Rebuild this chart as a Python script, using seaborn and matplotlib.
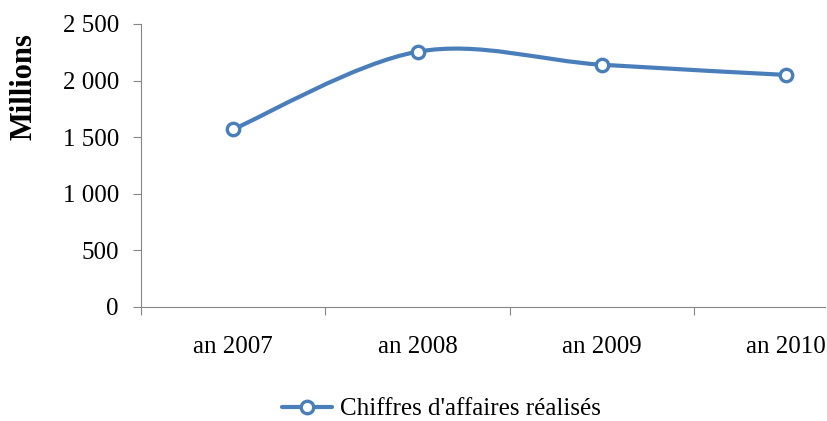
import numpy as np
import pandas as pd
import matplotlib
matplotlib.use("Agg")
import matplotlib.pyplot as plt
from matplotlib.path import Path
from matplotlib.patches import PathPatch
from matplotlib.lines import Line2D
from matplotlib.ticker import FuncFormatter, FixedLocator
import seaborn as sns

years = ["an 2007", "an 2008", "an 2009", "an 2010"]
chiffres = [1570, 2255, 2140, 2050]
series_name = "Chiffres d'affaires réalisés"

blue = "#4A7EBB"
grey = "#868686"

sns.set_style("white")
plt.rcParams["font.family"] = ["Liberation Serif", "DejaVu Serif"]
plt.rcParams["text.color"] = "black"
plt.rcParams["xtick.labelcolor"] = "black"
plt.rcParams["ytick.labelcolor"] = "black"
plt.rcParams["axes.labelcolor"] = "black"

df = pd.DataFrame({"pos": np.arange(len(years)), "val": chiffres})

fig = plt.figure(figsize=(8.27, 4.21), dpi=100)
ax = fig.add_axes([0.1705, 0.2708, 0.8271, 0.6722])

# smoothed line (Excel-like Bezier through the points)
x = df["pos"].to_numpy(dtype=float)
y = df["val"].to_numpy(dtype=float)
verts = [(x[0], y[0])]
codes = [Path.MOVETO]
n = len(x)
for i in range(n - 1):
    p0 = (x[max(i - 1, 0)], y[max(i - 1, 0)])
    p1 = (x[i], y[i])
    p2 = (x[i + 1], y[i + 1])
    p3 = (x[min(i + 2, n - 1)], y[min(i + 2, n - 1)])
    c1 = (p1[0] + (p2[0] - p0[0]) / 6, p1[1] + (p2[1] - p0[1]) / 6)
    c2 = (p2[0] - (p3[0] - p1[0]) / 6, p2[1] - (p3[1] - p1[1]) / 6)
    verts += [c1, c2, p2]
    codes += [Path.CURVE4] * 3
ax.add_patch(PathPatch(Path(verts, codes), facecolor="none", edgecolor=blue,
                       lw=3, capstyle="round", joinstyle="round", zorder=2))

sns.scatterplot(data=df, x="pos", y="val", ax=ax, marker="o", s=80,
                facecolor="white", edgecolor=blue, linewidth=2.4, zorder=3,
                legend=False)

ax.set_xlim(-0.5, 3.21)
ax.set_ylim(0, 2500)
ax.set_yticks(np.arange(0, 2501, 500))
ax.yaxis.set_major_formatter(FuncFormatter(lambda v, p: f"{int(v):,}".replace(",", " ")))
ax.set_xticks(df["pos"])
ax.set_xticklabels(years)
ax.xaxis.set_minor_locator(FixedLocator(np.arange(-0.5, 3.6, 1)))

ax.tick_params(axis="x", which="major", length=0, pad=21, labelsize=18)
ax.tick_params(axis="x", which="minor", length=6, width=0.8, color=grey, direction="out", bottom=True)
ax.tick_params(axis="y", length=6, width=0.8, color=grey, direction="out", left=True, pad=10, labelsize=18)

for side in ["top", "right"]:
    ax.spines[side].set_visible(False)
for side in ["left", "bottom"]:
    ax.spines[side].set_color(grey)
    ax.spines[side].set_linewidth(0.8)

ax.set_xlabel("")
ax.set_ylabel("Millions", fontsize=22, fontweight="bold")
ax.yaxis.set_label_coords(-0.150, 0.78)

handle = Line2D([], [], color=blue, lw=3, marker="o", markersize=9,
                markerfacecolor="white", markeredgecolor=blue, markeredgewidth=2.4)
fig.legend([handle], [series_name], loc="center", bbox_to_anchor=(0.534, 0.028),
           frameon=False, fontsize=18, handlelength=2.0, handletextpad=0.3)

fig.savefig("out.png", dpi=100)
